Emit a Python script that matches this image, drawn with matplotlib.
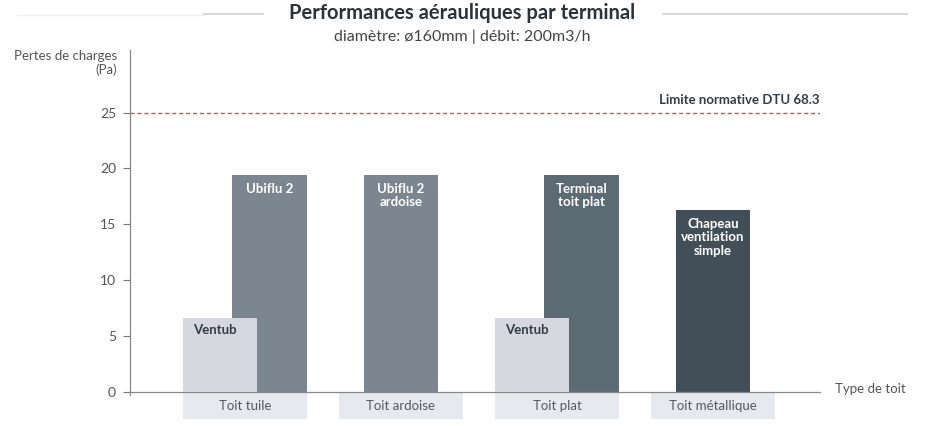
import numpy as np
import matplotlib.pyplot as plt

plt.rcParams['font.family'] = ['Lato', 'DejaVu Sans']

# Roof types (x categories)
roofs = ['Toit tuile', 'Toit ardoise', 'Toit plat', 'Toit métallique']

# Main terminal per roof type
terminals = ['Ubiflu 2', 'Ubiflu 2\nardoise', 'Terminal\ntoit plat', 'Chapeau\nventilation\nsimple']
terminal_pa = [19.4, 19.4, 19.4, 16.3]
terminal_colors = ['#7b8691', '#7b8691', '#5c6a74', '#424f59']

# Ventub, only on some roofs
ventub_roofs = [0, 2]
ventub_pa = [6.6, 6.6]

limit_pa = 25
limit_label = 'Limite normative DTU 68.3'

fig = plt.figure(figsize=(9.41, 4.26), dpi=100)
# axes: x 130..820 px, y (-0.3 .. 30.6) -> 395.3..50 px
ax = fig.add_axes([130 / 941, 1 - 395.3 / 426, 690 / 941, 345.3 / 426])

x = np.arange(len(roofs))
w = 0.48
off = 0.16

# offset the main bar to the right where a Ventub bar sits next to it
shift = np.array([off if i in ventub_roofs else 0.0 for i in x])
ax.bar(x + shift, terminal_pa, width=w, color=terminal_colors, zorder=2)
for xi, v, name in zip(x + shift, terminal_pa, terminals):
    ax.text(xi, v - 0.7, name, ha='center', va='top', color='white',
            fontsize=9.5, fontweight='bold', linespacing=1.15, zorder=4)

vx = np.array(ventub_roofs) - off
ax.bar(vx, ventub_pa, width=w, color='#d5d9df', zorder=3)
for xi, v in zip(vx, ventub_pa):
    ax.text(xi - 0.03, v - 0.55, 'Ventub', ha='center', va='top', color='#333d45',
            fontsize=9.5, fontweight='bold', zorder=4)

# limit line
ax.axhline(limit_pa, color='#d9534f', lw=1, ls=(0, (3, 2)), zorder=1)
ax.text(3.686, limit_pa + 0.6, limit_label, ha='right', va='bottom',
        fontsize=9.5, fontweight='bold', color='#333d45')

# category boxes under the axis
ax.bar(x, -2.3, bottom=-0.12, width=0.8, color='#e6e9ed', clip_on=False, zorder=1)
for xi, r in zip(x, roofs):
    ax.text(xi, -1.27, r, ha='center', va='center', fontsize=9.5, color='#555b61')

ax.set_xlim(-0.737, 3.686)
ax.set_ylim(-0.3, 30.6)
ax.spines['bottom'].set_position(('data', 0))
ax.set_xticks([])
ax.set_yticks([0, 5, 10, 15, 20, 25])
ax.tick_params(axis='y', direction='out', length=5, width=0.8, color='#777777',
               labelcolor='#555555', labelsize=10, pad=5)
for s in ['top', 'right']:
    ax.spines[s].set_visible(False)
for s in ['left', 'bottom']:
    ax.spines[s].set_color('#888888')
    ax.spines[s].set_linewidth(0.9)

fig.text(117 / 941, 1 - 63 / 426, 'Pertes de charges\n(Pa)', ha='right', va='center',
         multialignment='right', fontsize=9.5, color='#555555', linespacing=1.15)
fig.text(835 / 941, 1 - 389 / 426, 'Type de toit', ha='left', va='center',
         fontsize=9.5, color='#555555')

# title and subtitle
fig.text(462 / 941, 1 - 13 / 426, 'Performances aérauliques par terminal', ha='center',
         va='center', fontsize=14.5, fontweight='bold', color='#2b333a')
fig.text(462 / 941, 1 - 37 / 426, 'diamètre: ø160mm | débit: 200m3/h', ha='center',
         va='center', fontsize=11.5, color='#444444')
fig.add_artist(plt.Line2D([18 / 941, 204 / 941], [1 - 15 / 426] * 2, color='#f0f0f0', lw=1))
fig.add_artist(plt.Line2D([204 / 941, 263 / 941], [1 - 14 / 426] * 2, color='#d4d4d4', lw=1.3))
fig.add_artist(plt.Line2D([663 / 941, 907 / 941], [1 - 14 / 426] * 2, color='#d4d4d4', lw=1.3))

plt.savefig('out.png', dpi=100)
